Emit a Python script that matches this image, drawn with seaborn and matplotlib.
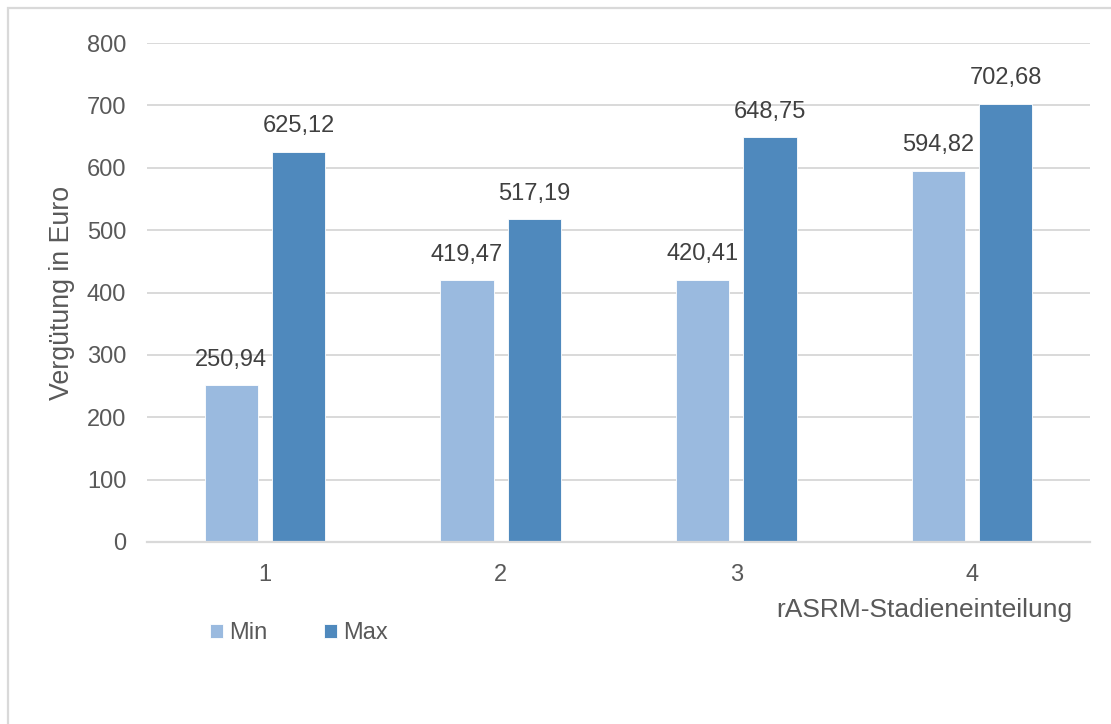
import matplotlib
matplotlib.use("Agg")
import matplotlib.pyplot as plt
from matplotlib.patches import Rectangle
import seaborn as sns
import pandas as pd

stages = ["1", "2", "3", "4"]
min_values = [250.94, 419.47, 420.41, 594.82]
max_values = [625.12, 517.19, 648.75, 702.68]
series_names = ["Min", "Max"]
y_ticks = [0, 100, 200, 300, 400, 500, 600, 700, 800]

df = pd.DataFrame({
    "stage": stages * 2,
    "series": [series_names[0]] * 4 + [series_names[1]] * 4,
    "value": min_values + max_values,
})

sns.set_theme(style="white")
plt.rcParams["font.family"] = ["Liberation Sans", "DejaVu Sans"]

W, H = 1111, 724
fig = plt.figure(figsize=(W / 100, H / 100), dpi=100)
ax = fig.add_axes([147 / W, 1 - 542 / H, (1090 - 147) / W, (542 - 43) / H])

light = "#9ABADF"
dark = "#4F89BD"
sns.barplot(data=df, x="stage", y="value", hue="series", order=stages,
            hue_order=series_names, palette=[light, dark], width=0.57, gap=0.21,
            edgecolor="white", linewidth=0.6, saturation=1, ax=ax)

leg = ax.get_legend()
handles = leg.legend_handles
leg.remove()

for cont, vals in zip(ax.containers, [min_values, max_values]):
    ax.bar_label(cont, labels=[f"{v:.2f}".replace(".", ",") for v in vals],
                 padding=10.5, fontsize=17, color="#404040")

ax.set_ylim(0, 800)
ax.set_xlim(-0.5, 3.5)
ax.set_yticks(y_ticks)
ax.yaxis.grid(True, color="#D9D9D9", linewidth=1.4)
ax.set_axisbelow(True)
for s in ["top", "right", "left"]:
    ax.spines[s].set_visible(False)
ax.spines["bottom"].set_color("#D9D9D9")
ax.spines["bottom"].set_linewidth(1.6)
ax.tick_params(axis="both", length=0, labelsize=17, labelcolor="#595959")
ax.tick_params(axis="x", pad=16)
ax.tick_params(axis="y", pad=15)

ax.set_xlabel("rASRM-Stadieneinteilung", fontsize=19, color="#595959")
ax.xaxis.label.set_ha("right")
ax.xaxis.label.set_va("baseline")
ax.xaxis.set_label_coords((1072 - 147) / 943, (542 - 617) / 499)

ax.set_ylabel("Vergütung in Euro", fontsize=19.3, color="#595959")
ax.yaxis.label.set_va("center")
ax.yaxis.label.set_ha("center")
ax.yaxis.set_label_coords((62 - 147) / 943, 0.5)

fig.legend(handles, series_names, loc="center left",
           bbox_to_anchor=(189 / W, 1 - 633 / H), ncol=2, frameon=False,
           fontsize=17, labelcolor="#595959", handlelength=0.55,
           handleheight=0.55, handletextpad=0.25, columnspacing=2.4)

fig.patches.append(Rectangle((7.5 / W, -0.1), 1.2, 1.1 - 8.5 / H,
                             transform=fig.transFigure, fill=False,
                             edgecolor="#D9D9D9", linewidth=1.6))

fig.savefig("out.png", dpi=100, facecolor="white")
